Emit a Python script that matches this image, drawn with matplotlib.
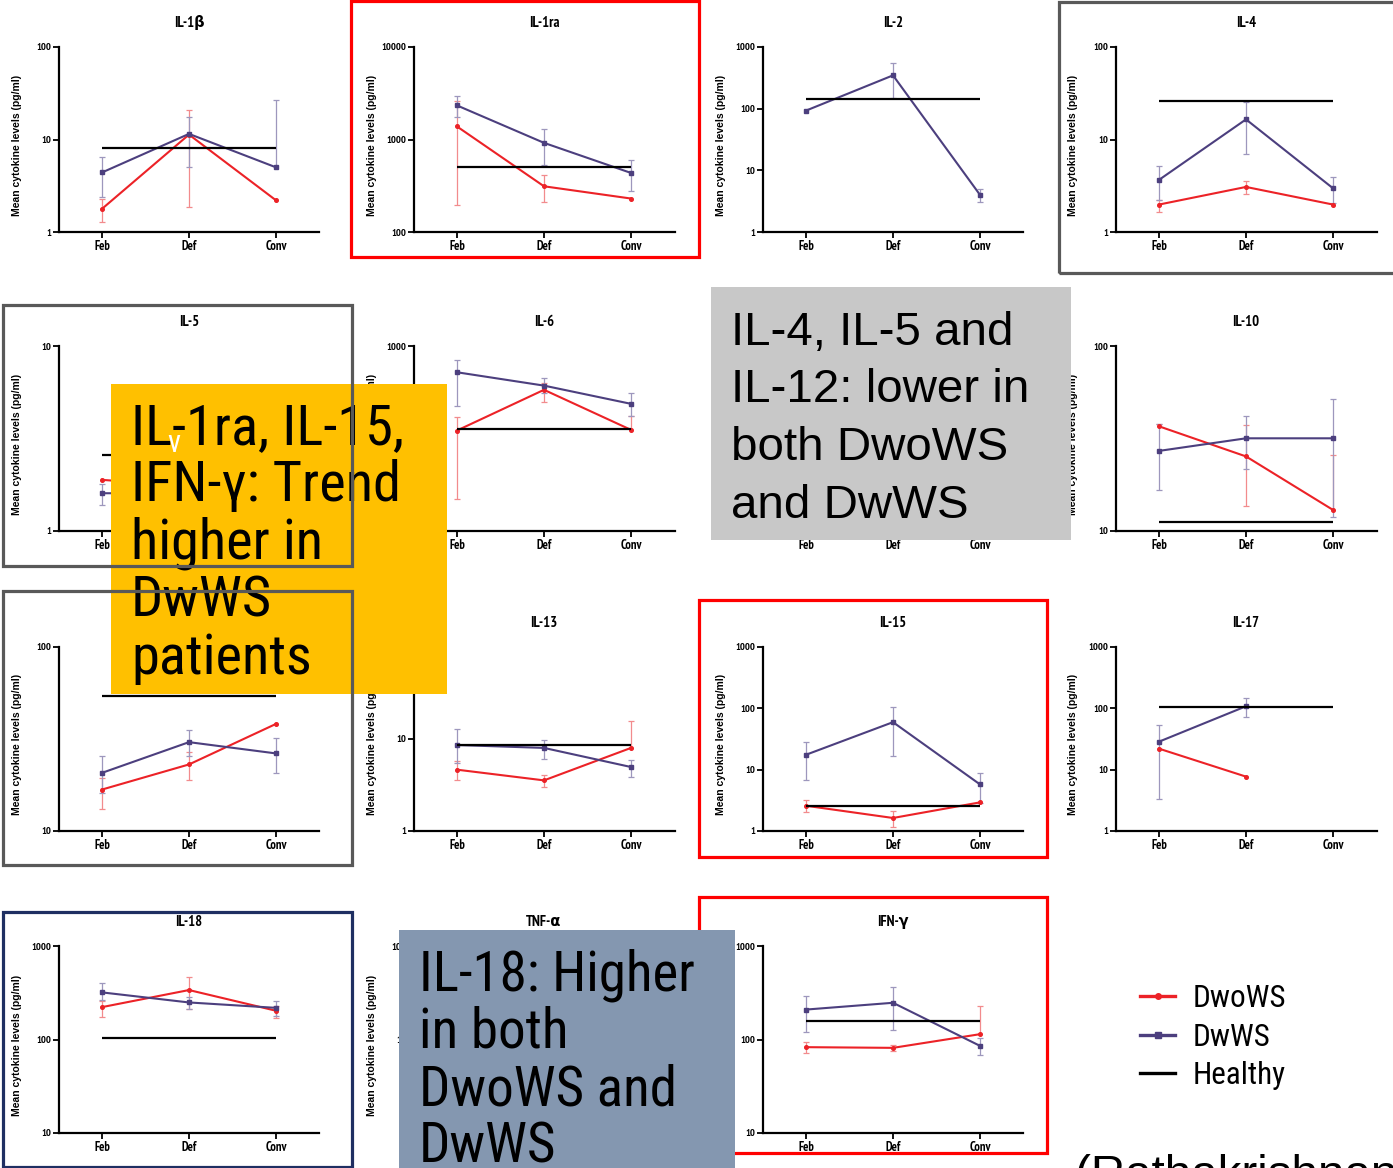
import numpy as np
import matplotlib
matplotlib.use("Agg")
import matplotlib.pyplot as plt
import matplotlib.font_manager as fm
from matplotlib.lines import Line2D
from matplotlib.patches import Rectangle
from matplotlib.ticker import FixedLocator, NullLocator

nan = np.nan

days = ["Feb", "Def", "Conv"]

# mean values (pg/ml) and error-bar ends
il1b_healthy = 8.1
il1b_dwows = [1.78, 11.3, 2.2]
il1b_dwows_lo = [1.28, 1.88, nan]
il1b_dwows_hi = [2.3, 20.6, nan]
il1b_dwws = [4.4, 11.5, 5.0]
il1b_dwws_lo = [2.4, 5.06, nan]
il1b_dwws_hi = [6.4, 17.6, 27.0]

il1ra_healthy = 506
il1ra_dwows = [1383, 312, 230]
il1ra_dwows_lo = [194, 211, nan]
il1ra_dwows_hi = [2580, 418, nan]
il1ra_dwws = [2335, 920, 435]
il1ra_dwws_lo = [1760, 527, 276]
il1ra_dwws_hi = [2946, 1305, 602]

il2_healthy = 143
il2_dwows = [nan, nan, nan]
il2_dwows_lo = [nan, nan, nan]
il2_dwows_hi = [nan, nan, nan]
il2_dwws = [93, 347, 4.0]
il2_dwws_lo = [nan, 149, 3.03]
il2_dwws_hi = [nan, 550, 4.98]

il4_healthy = 26.2
il4_dwows = [1.98, 3.07, 1.98]
il4_dwows_lo = [1.65, 2.58, nan]
il4_dwows_hi = [2.24, 3.57, nan]
il4_dwws = [3.66, 16.5, 2.97]
il4_dwws_lo = [2.24, 7.0, 2.06]
il4_dwws_hi = [5.23, 25.6, 3.94]

il5_healthy = 2.59
il5_dwows = [1.89, 1.75, 1.7]
il5_dwows_lo = [nan, nan, nan]
il5_dwows_hi = [nan, nan, nan]
il5_dwws = [1.60, 1.6, 1.55]
il5_dwws_lo = [1.39, nan, nan]
il5_dwws_hi = [1.80, nan, nan]

il6_healthy = 128
il6_dwows = [122, 336, 124]
il6_dwows_lo = [22, 247, nan]
il6_dwows_hi = [171, 396, 176]
il6_dwws = [520, 373, 237]
il6_dwws_lo = [222, 309, 176]
il6_dwws_hi = [707, 449, 309]

il10_healthy = 11.2
il10_dwows = [36.8, 25.3, 13.0]
il10_dwows_lo = [nan, 13.7, nan]
il10_dwows_hi = [37.8, 37.4, 25.9]
il10_dwws = [27.1, 31.7, 31.7]
il10_dwws_lo = [16.7, 21.7, 11.9]
il10_dwws_hi = [37.8, 42.0, 51.7]

il12_healthy = 54
il12_dwows = [16.8, 23.0, 38.2]
il12_dwows_lo = [13.1, 19.0, nan]
il12_dwows_hi = [19.5, 26.9, nan]
il12_dwws = [20.7, 30.4, 26.4]
il12_dwws_lo = [16.0, 25.7, 20.7]
il12_dwws_hi = [25.7, 35.5, 32.1]

il13_healthy = 8.5
il13_dwows = [4.64, 3.55, 8.0]
il13_dwows_lo = [3.55, 3.03, nan]
il13_dwows_hi = [5.81, 4.1, 15.8]
il13_dwws = [8.6, 8.0, 4.96]
il13_dwws_lo = [5.44, 6.11, 3.9]
il13_dwws_hi = [12.9, 9.84, 5.96]

il15_healthy = 2.58
il15_dwows = [2.58, 1.63, 2.93]
il15_dwows_lo = [2.01, 1.16, nan]
il15_dwows_hi = [3.24, 2.14, nan]
il15_dwws = [17.5, 59.5, 5.75]
il15_dwws_lo = [6.68, 16.8, 2.9]
il15_dwws_hi = [28.5, 106, 8.9]

il17_healthy = 104
il17_dwows = [22.0, 7.7, nan]
il17_dwows_lo = [nan, nan, nan]
il17_dwows_hi = [nan, nan, nan]
il17_dwws = [28.6, 108, nan]
il17_dwws_lo = [3.3, 72, nan]
il17_dwws_hi = [53.5, 146, nan]

il18_healthy = 103
il18_dwows = [222, 338, 203]
il18_dwows_lo = [173, 210, 171]
il18_dwows_hi = [259, 461, 228]
il18_dwws = [319, 249, 218]
il18_dwws_lo = [262, 210, 178]
il18_dwws_hi = [405, 287, 259]

ifng_healthy = 157
ifng_dwows = [82.8, 81.4, 114]
ifng_dwows_lo = [71.9, 75.7, nan]
ifng_dwows_hi = [94.4, 88.3, 227]
ifng_dwws = [209, 247, 85.5]
ifng_dwws_lo = [121, 127, 67.9]
ifng_dwws_hi = [294, 367, 103]

yellow_lines = ["IL-1ra, IL-15,", "IFN-\u03b3: Trend", "higher in", "DwWS", "patients"]
gray_lines = ["IL-4, IL-5 and", "IL-12: lower in", "both DwoWS", "and DwWS"]
blue_lines = ["IL-18: Higher", "in both", "DwoWS and", "DwWS"]

W, H = 1393, 1168
RED = "#ec2227"
PURPLE = "#4c3f7e"
RED_ERR = "#f28b8d"
PURPLE_ERR = "#9d97bd"


def first_font(names, fallback):
    for name in names:
        try:
            fm.findfont(fm.FontProperties(family=name), fallback_to_default=False)
            return name
        except ValueError:
            pass
    return fallback


ARIAL = first_font(["Liberation Sans", "Arimo"], "DejaVu Sans")
NARROW = first_font(["Liberation Sans Narrow", "Arial Narrow", "Roboto Condensed",
                     "Archivo Narrow", "PT Sans Narrow"], ARIAL)
NARROW_BOLD = first_font(["Liberation Sans Narrow", "Arial Narrow", "PT Sans Narrow",
                          "Roboto Condensed"], ARIAL)


def fx(x):
    return x / W


def fy(y):
    return 1 - y / H


fig = plt.figure(figsize=(W / 100, H / 100), dpi=100)
renderer = fig.canvas.get_renderer()


def fit_size(text, family, target_px, weight="normal"):
    # font size (pt) that gives the text the width seen in the slide
    prop = fm.FontProperties(family=family, size=10, weight=weight)
    w, _, _ = renderer.get_text_width_height_descent(text, prop, ismath=False)
    return 10 * target_px / w


def block_text(lines, x0, first_base, gap, size, family, z):
    for i, line in enumerate(lines):
        fig.text(fx(x0), fy(first_base + i * gap), line, fontsize=size,
                 family=[family, "DejaVu Sans"], va="baseline", ha="left",
                 zorder=z)


def draw_bars(ax, x, mean, lo, hi, color):
    for xi, m, l, h in zip(x, mean, lo, hi):
        if np.isnan(m) or (np.isnan(l) and np.isnan(h)):
            continue
        bottom = m if np.isnan(l) else l
        top = m if np.isnan(h) else h
        ax.vlines(xi, bottom, top, color=color, lw=0.9, zorder=2)
        caps = [v for v in (l, h) if not np.isnan(v)]
        ax.plot([xi] * len(caps), caps, ls="none", marker="_", ms=4, mew=0.9,
                color=color, zorder=2)


feb_x = [102, 457, 806, 1159]
row_top = [47, 346, 647, 946]
row_bot = [232, 531, 831, 1133]
unit = 87

panels = [
    ("IL-1\u03b2", 0, 0, 1, 100, il1b_healthy, il1b_dwows, il1b_dwows_lo, il1b_dwows_hi, il1b_dwws, il1b_dwws_lo, il1b_dwws_hi),
    ("IL-1ra", 0, 1, 100, 10000, il1ra_healthy, il1ra_dwows, il1ra_dwows_lo, il1ra_dwows_hi, il1ra_dwws, il1ra_dwws_lo, il1ra_dwws_hi),
    ("IL-2", 0, 2, 1, 1000, il2_healthy, il2_dwows, il2_dwows_lo, il2_dwows_hi, il2_dwws, il2_dwws_lo, il2_dwws_hi),
    ("IL-4", 0, 3, 1, 100, il4_healthy, il4_dwows, il4_dwows_lo, il4_dwows_hi, il4_dwws, il4_dwws_lo, il4_dwws_hi),
    ("IL-5", 1, 0, 1, 10, il5_healthy, il5_dwows, il5_dwows_lo, il5_dwows_hi, il5_dwws, il5_dwws_lo, il5_dwws_hi),
    ("IL-6", 1, 1, 10, 1000, il6_healthy, il6_dwows, il6_dwows_lo, il6_dwows_hi, il6_dwws, il6_dwws_lo, il6_dwws_hi),
    ("IL-8", 1, 2, 1, 100, None, None, None, None, None, None, None),
    ("IL-10", 1, 3, 10, 100, il10_healthy, il10_dwows, il10_dwows_lo, il10_dwows_hi, il10_dwws, il10_dwws_lo, il10_dwws_hi),
    ("IL-12", 2, 0, 10, 100, il12_healthy, il12_dwows, il12_dwows_lo, il12_dwows_hi, il12_dwws, il12_dwws_lo, il12_dwws_hi),
    ("IL-13", 2, 1, 1, 100, il13_healthy, il13_dwows, il13_dwows_lo, il13_dwows_hi, il13_dwws, il13_dwws_lo, il13_dwws_hi),
    ("IL-15", 2, 2, 1, 1000, il15_healthy, il15_dwows, il15_dwows_lo, il15_dwows_hi, il15_dwws, il15_dwws_lo, il15_dwws_hi),
    ("IL-17", 2, 3, 1, 1000, il17_healthy, il17_dwows, il17_dwows_lo, il17_dwows_hi, il17_dwws, il17_dwws_lo, il17_dwws_hi),
    ("IL-18", 3, 0, 10, 1000, il18_healthy, il18_dwows, il18_dwows_lo, il18_dwows_hi, il18_dwws, il18_dwws_lo, il18_dwws_hi),
    ("TNF-\u03b1", 3, 1, 1, 100, None, None, None, None, None, None, None),
    ("IFN-\u03b3", 3, 2, 10, 1000, ifng_healthy, ifng_dwows, ifng_dwows_lo, ifng_dwows_hi, ifng_dwws, ifng_dwws_lo, ifng_dwws_hi),
]

x = np.arange(len(days))

for (title, r, c, ymin, ymax, healthy,
     red, red_lo, red_hi, pur, pur_lo, pur_hi) in panels:
    left = feb_x[c] - 0.5 * unit
    top, bot = row_top[r], row_bot[r]
    ax = fig.add_axes([fx(left), fy(bot), 3 * unit / W, (bot - top) / H])
    ax.set_yscale("log")
    ax.set_xlim(-0.5, 2.5)
    ax.set_ylim(ymin, ymax)

    if healthy is not None:
        draw_bars(ax, x, red, red_lo, red_hi, RED_ERR)
        draw_bars(ax, x, pur, pur_lo, pur_hi, PURPLE_ERR)
        ax.plot(x, red, color=RED, lw=1.5, marker="o", ms=2.6, zorder=3)
        ax.plot(x, pur, color=PURPLE, lw=1.5, marker="s", ms=2.8, zorder=3)
        ax.hlines(healthy, 0, 2, color="black", lw=1.6, zorder=4)

    decades = 10.0 ** np.arange(np.log10(ymin), np.log10(ymax) + 0.5)
    ax.yaxis.set_major_locator(FixedLocator(decades))
    ax.yaxis.set_minor_locator(NullLocator())
    ax.set_yticklabels([f"{int(d)}" for d in decades])
    ax.set_xticks(x)
    ax.set_xticklabels(days)
    for lab in ax.get_xticklabels():
        lab.set_fontfamily(NARROW_BOLD)
        lab.set_fontweight("bold")
        lab.set_fontsize(9)
    for lab in ax.get_yticklabels():
        lab.set_fontfamily(NARROW_BOLD)
        lab.set_fontweight("bold")
        lab.set_fontsize(7.5)
    ax.tick_params(axis="both", direction="out", length=4, width=1.3, pad=1.5)

    for side in ("top", "right"):
        ax.spines[side].set_visible(False)
    for side in ("left", "bottom"):
        ax.spines[side].set_linewidth(1.6)

    ax.set_ylabel("Mean cytokine levels (pg/ml)", fontsize=7.5, fontweight="bold",
                  family=ARIAL)
    ax.yaxis.set_label_coords(-37 / (3 * unit), 0.47)
    ax.text(0.5, 1 + 24 / (bot - top), title, transform=ax.transAxes,
            ha="center", va="center", fontsize=10.5, fontweight="bold",
            family=[NARROW_BOLD, "DejaVu Sans"])

# frames around panels
frames = [
    (351, 1, 699, 257, "#ff0000"),
    (1059, 2, 1400, 273, "#595959"),
    (3, 305, 352, 566, "#595959"),
    (3, 591, 352, 865, "#595959"),
    (699, 600, 1047, 857, "#ff0000"),
    (699, 897, 1047, 1153, "#ff0000"),
    (3, 912, 352, 1167, "#1f2f62"),
]
for x0, y0, x1, y1, col in frames:
    fig.add_artist(Rectangle((fx(x0), fy(y1)), (x1 - x0) / W, (y1 - y0) / H,
                             transform=fig.transFigure, fill=False,
                             edgecolor=col, lw=2.3, zorder=6))

# annotation boxes
boxes = [
    (111, 384, 447, 694, "#ffc000", 5),
    (711, 287, 1071, 540, "#c8c8c8", 5),
    (399, 930, 735, 1170, "#8497b0", 7),
]
for x0, y0, x1, y1, col, z in boxes:
    fig.add_artist(Rectangle((fx(x0), fy(y1)), (x1 - x0) / W, (y1 - y0) / H,
                             transform=fig.transFigure, facecolor=col,
                             edgecolor="none", zorder=z))

gap = 57.5
yellow_size = fit_size(yellow_lines[0], NARROW, 272)
gray_size = fit_size(gray_lines[1], ARIAL, 299)
blue_size = fit_size(blue_lines[0], NARROW, 274)
legend_size = fit_size("DwoWS", NARROW, 94)

block_text(yellow_lines, 131, 444, gap, yellow_size, NARROW, 5.5)
fig.text(fx(167), fy(452), "v", color="white", fontsize=22, family=NARROW,
         va="baseline", zorder=5.6)
block_text(gray_lines, 731, 345, gap, gray_size, ARIAL, 5.5)
block_text(blue_lines, 419, 990, gap, blue_size, NARROW, 7.5)
fig.text(fx(1075), fy(1188), "(Rathakrishnan et al., 2012)", fontsize=gray_size,
         family=ARIAL, va="baseline", ha="left")

handles = [
    Line2D([], [], color=RED, lw=2.4, marker="o", ms=4),
    Line2D([], [], color=PURPLE, lw=2.4, marker="s", ms=4),
    Line2D([], [], color="black", lw=2.4),
]
legend_px = legend_size * 100 / 72
fig.legend(handles, ["DwoWS", "DwWS", "Healthy"], loc="center left",
           bbox_to_anchor=(fx(1140), fy(1037)), frameon=False, borderpad=0,
           borderaxespad=0, handlelength=35 / legend_px,
           handletextpad=18 / legend_px, labelspacing=0.3,
           prop={"family": NARROW, "size": legend_size})

fig.savefig("out.png", dpi=100)
